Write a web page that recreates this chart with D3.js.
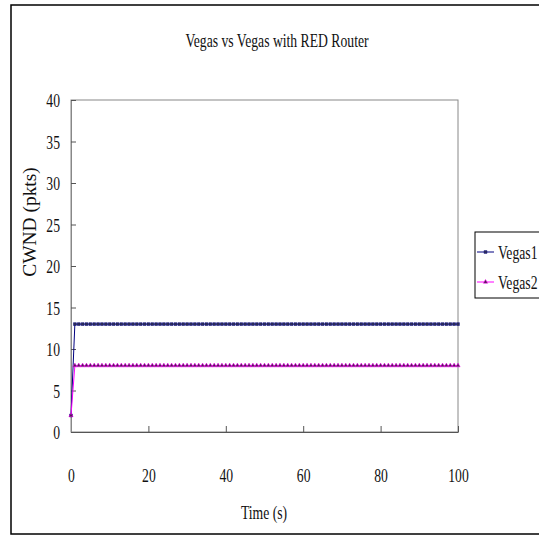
<!DOCTYPE html>
<html>
<head>
<meta charset="utf-8">
<script src="https://cdn.jsdelivr.net/npm/d3@7/dist/d3.min.js"></script>
<style>
  html, body { margin: 0; padding: 0; background: #fff; }
  svg text { font-family: "Liberation Serif", "DejaVu Serif", serif !important; fill: #111; }
</style>
</head>
<body>
<div id="chart"></div>
<script>
const title = "Vegas vs Vegas with RED Router"
const xLabel = "Time (s)"
const yLabel = "CWND (pkts)"
const seriesNames = ["Vegas1", "Vegas2"]

const times = [0, 1, 2, 3, 4, 5, 6, 7, 8, 9, 10, 11, 12, 13, 14, 15, 16, 17, 18, 19,
  20, 21, 22, 23, 24, 25, 26, 27, 28, 29, 30, 31, 32, 33, 34, 35, 36, 37, 38, 39,
  40, 41, 42, 43, 44, 45, 46, 47, 48, 49, 50, 51, 52, 53, 54, 55, 56, 57, 58, 59,
  60, 61, 62, 63, 64, 65, 66, 67, 68, 69, 70, 71, 72, 73, 74, 75, 76, 77, 78, 79,
  80, 81, 82, 83, 84, 85, 86, 87, 88, 89, 90, 91, 92, 93, 94, 95, 96, 97, 98, 99, 100]

const vegas1 = [2, 13, 13, 13, 13, 13, 13, 13, 13, 13, 13, 13, 13, 13, 13, 13, 13, 13, 13, 13,
  13, 13, 13, 13, 13, 13, 13, 13, 13, 13, 13, 13, 13, 13, 13, 13, 13, 13, 13, 13,
  13, 13, 13, 13, 13, 13, 13, 13, 13, 13, 13, 13, 13, 13, 13, 13, 13, 13, 13, 13,
  13, 13, 13, 13, 13, 13, 13, 13, 13, 13, 13, 13, 13, 13, 13, 13, 13, 13, 13, 13,
  13, 13, 13, 13, 13, 13, 13, 13, 13, 13, 13, 13, 13, 13, 13, 13, 13, 13, 13, 13, 13]

const vegas2 = [2, 8, 8, 8, 8, 8, 8, 8, 8, 8, 8, 8, 8, 8, 8, 8, 8, 8, 8, 8,
  8, 8, 8, 8, 8, 8, 8, 8, 8, 8, 8, 8, 8, 8, 8, 8, 8, 8, 8, 8,
  8, 8, 8, 8, 8, 8, 8, 8, 8, 8, 8, 8, 8, 8, 8, 8, 8, 8, 8, 8,
  8, 8, 8, 8, 8, 8, 8, 8, 8, 8, 8, 8, 8, 8, 8, 8, 8, 8, 8, 8,
  8, 8, 8, 8, 8, 8, 8, 8, 8, 8, 8, 8, 8, 8, 8, 8, 8, 8, 8, 8, 8]

const xTicks = [0, 20, 40, 60, 80, 100]
const yTicks = [0, 5, 10, 15, 20, 25, 30, 35, 40]

const W = 539, H = 536
const SX = 0.72  // horizontal squeeze to mimic the narrow serif font
const FONT = "Liberation Serif, DejaVu Serif, serif"

const svg = d3.select("#chart").append("svg")
  .attr("width", W)
  .attr("height", H)
  .attr("font-family", FONT)

// outer chart border
svg.append("rect")
  .attr("x", 11).attr("y", 5)
  .attr("width", 560).attr("height", 529)
  .attr("fill", "none")
  .attr("stroke", "#000")
  .attr("stroke-width", 1.5)

const x = d3.scaleLinear().domain([0, 100]).range([71, 458])
const y = d3.scaleLinear().domain([0, 40]).range([432, 100])

// plot area frame
svg.append("rect")
  .attr("x", x(0)).attr("y", y(40))
  .attr("width", x(100) - x(0)).attr("height", y(0) - y(40))
  .attr("fill", "none")
  .attr("stroke", "#888")
  .attr("stroke-width", 1)

const xAxis = svg.append("g")
  .attr("transform", `translate(0,${y(0)})`)
  .call(d3.axisBottom(x).tickValues(xTicks).tickSizeInner(-6).tickSizeOuter(0))
xAxis.attr("font-family", FONT)
xAxis.select(".domain").attr("stroke", "#555")
xAxis.selectAll(".tick line").attr("stroke", "#555")
xAxis.selectAll(".tick text")
  .attr("font-size", 19)
  .attr("y", 43)
  .attr("dy", "0.35em")
  .attr("transform", `scale(${SX},1)`)

const yAxis = svg.append("g")
  .attr("transform", `translate(${x(0)},0)`)
  .call(d3.axisLeft(y).tickValues(yTicks).tickSizeInner(-5).tickSizeOuter(0))
yAxis.attr("font-family", FONT)
yAxis.select(".domain").attr("stroke", "#888")
yAxis.selectAll(".tick line").attr("stroke", "#555")
yAxis.selectAll(".tick text")
  .attr("font-size", 19)
  .attr("x", -11 / SX)
  .attr("dy", "0.35em")
  .attr("transform", `scale(${SX},1)`)

// title and axis labels
svg.append("text")
  .attr("transform", `translate(277,40) scale(${SX},1)`)
  .attr("text-anchor", "middle")
  .attr("dy", "0.35em")
  .attr("font-size", 19)
  .text(title)

svg.append("text")
  .attr("transform", `translate(264,512) scale(${SX},1)`)
  .attr("text-anchor", "middle")
  .attr("dy", "0.35em")
  .attr("font-size", 19)
  .text(xLabel)

svg.append("text")
  .attr("transform", `translate(30,222) rotate(-90) scale(1.08,1)`)
  .attr("text-anchor", "middle")
  .attr("dy", "0.35em")
  .attr("font-size", 18)
  .text(yLabel)

const series = [
  { name: seriesNames[0], values: vegas1, color: "#000080", marker: d3.symbolSquare, mfill: "#303050" },
  { name: seriesNames[1], values: vegas2, color: "#ff00ff", marker: d3.symbolTriangle, mfill: "#502050" }
]

const line = d3.line()
  .x((d, i) => x(times[i]))
  .y(d => y(d))

series.forEach(s => {
  svg.append("path")
    .datum(s.values)
    .attr("fill", "none")
    .attr("stroke", s.color)
    .attr("stroke-width", 1)
    .attr("d", line)

  svg.append("g").selectAll("path")
    .data(s.values)
    .join("path")
    .attr("transform", (d, i) => `translate(${x(times[i])},${y(d)})`)
    .attr("d", d3.symbol().type(s.marker).size(8))
    .attr("fill", s.mfill)
    .attr("stroke", s.color)
    .attr("stroke-width", 0.5)
})

// legend
const legend = svg.append("g")
legend.append("rect")
  .attr("x", 475).attr("y", 232)
  .attr("width", 80).attr("height", 66)
  .attr("fill", "#fff")
  .attr("stroke", "#000")
  .attr("stroke-width", 1)

series.forEach((s, i) => {
  const ly = 252 + i * 30
  legend.append("line")
    .attr("x1", 477).attr("x2", 494)
    .attr("y1", ly).attr("y2", ly)
    .attr("stroke", s.color)
  legend.append("path")
    .attr("transform", `translate(485.5,${ly})`)
    .attr("d", d3.symbol().type(s.marker).size(8))
    .attr("fill", s.mfill)
    .attr("stroke", s.color)
    .attr("stroke-width", 0.5)
  legend.append("text")
    .attr("transform", `translate(498,${ly}) scale(${SX},1)`)
    .attr("dy", "0.35em")
    .attr("font-size", 19)
    .text(s.name)
})
</script>
</body>
</html>
